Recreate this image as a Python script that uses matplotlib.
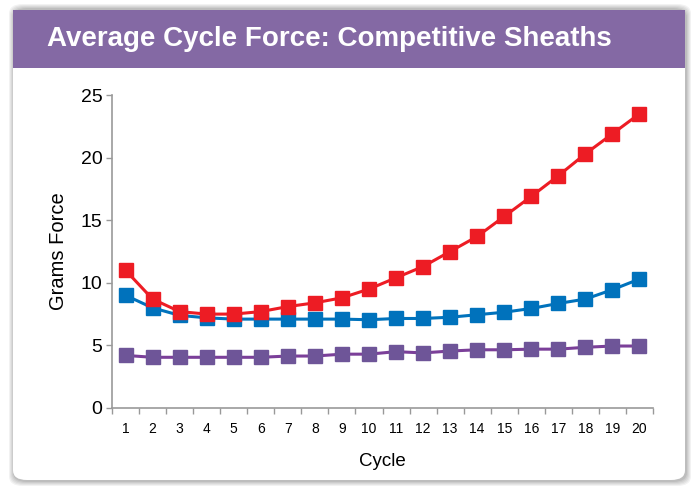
import matplotlib
matplotlib.use("Agg")
import matplotlib.pyplot as plt
from matplotlib.patches import FancyBboxPatch, Rectangle
from matplotlib import font_manager as fm

cycles = list(range(1, 21))
red_vals = [11.0, 8.7, 7.7, 7.5, 7.5, 7.7, 8.1, 8.4, 8.8, 9.5,
            10.4, 11.3, 12.5, 13.7, 15.3, 16.9, 18.55, 20.3, 21.9, 23.5]
blue_vals = [9.0, 8.0, 7.4, 7.2, 7.1, 7.1, 7.1, 7.1, 7.1, 7.05,
             7.15, 7.15, 7.25, 7.45, 7.65, 7.95, 8.35, 8.7, 9.45, 10.3]
purple_vals = [4.2, 4.05, 4.05, 4.05, 4.05, 4.05, 4.15, 4.15, 4.3, 4.3,
               4.5, 4.4, 4.55, 4.65, 4.65, 4.7, 4.7, 4.85, 4.95, 4.95]
title = "Average Cycle Force: Competitive Sheaths"
xlabel = "Cycle"
ylabel = "Grams Force"
yticks = [0, 5, 10, 15, 20, 25]

names = {f.name for f in fm.fontManager.ttflist}
narrow = "Liberation Sans Narrow" if "Liberation Sans Narrow" in names else "Liberation Sans"
regular = "Liberation Sans"

W, H = 691, 487
fig = plt.figure(figsize=(W / 100, H / 100), dpi=100)
fig.patch.set_facecolor("white")

def fx(px):
    return px / W

def fy(py):
    return 1 - py / H

# shadow
for i, a in enumerate([0.05, 0.05, 0.05, 0.06, 0.07]):
    d = 6 - i
    sh = FancyBboxPatch((fx(13 - d + 2), fy(480 + d)), fx(672 + 2 * d - 2), (470 + 2 * d) / H,
                        boxstyle="round,pad=0,rounding_size=0.02", transform=fig.transFigure,
                        facecolor="black", edgecolor="none", alpha=a, zorder=0)
    fig.patches.append(sh)
card = FancyBboxPatch((fx(13), fy(480)), fx(672), 470 / H,
                      boxstyle="round,pad=0,rounding_size=0.02", transform=fig.transFigure,
                      facecolor="white", edgecolor="none", zorder=1)
fig.patches.append(card)
header = Rectangle((fx(13), fy(68)), fx(672), 58 / H, transform=fig.transFigure,
                   facecolor="#8469A4", edgecolor="none", zorder=2)
fig.patches.append(header)
fig.text(fx(47), fy(39), title, color="white", fontsize=20, fontweight="bold",
         family=narrow, ha="left", va="center", zorder=3)

ax = fig.add_axes([fx(112), fy(408), fx(653 - 112), (408 - 95) / H])
ax.set_facecolor("none")
ax.set_zorder(5)

ax.plot(cycles, purple_vals, color="#7B3F99", lw=2.2, marker="s", ms=10,
        mfc="#6E5598", mec="#6E5598", zorder=3)
ax.plot(cycles, blue_vals, color="#0072BC", lw=2.2, marker="s", ms=10,
        mfc="#0072BC", mec="#0072BC", zorder=4)
ax.plot(cycles, red_vals, color="#ED1C24", lw=2.2, marker="s", ms=10,
        mfc="#ED1C24", mec="#ED1C24", zorder=5)

ax.set_xlim(0.5, 20.5)
ax.set_ylim(0, 25)
ax.set_yticks(yticks)
ax.set_yticklabels([str(v) for v in yticks], fontsize=14, family=regular)
ax.set_xticks(cycles)
ax.set_xticklabels([str(c) for c in cycles], fontsize=10, family=narrow)
ax.set_xticks([c + 0.5 for c in [0] + cycles], minor=True)
ax.tick_params(axis="x", which="major", length=0, pad=10)
ax.tick_params(axis="x", which="minor", length=4, color="#999999", width=1)
ax.tick_params(axis="y", length=4, color="#999999", width=1, pad=3)
for s in ["top", "right"]:
    ax.spines[s].set_visible(False)
for s in ["left", "bottom"]:
    ax.spines[s].set_color("#999999")
    ax.spines[s].set_linewidth(1.2)
ax.set_xlabel(xlabel, fontsize=13.5, family=regular, labelpad=12)
ax.set_ylabel(ylabel, fontsize=14.5, family=regular, labelpad=9)
for m in ax.lines:
    m.set_clip_on(False)

fig.savefig("out.png", dpi=100)
